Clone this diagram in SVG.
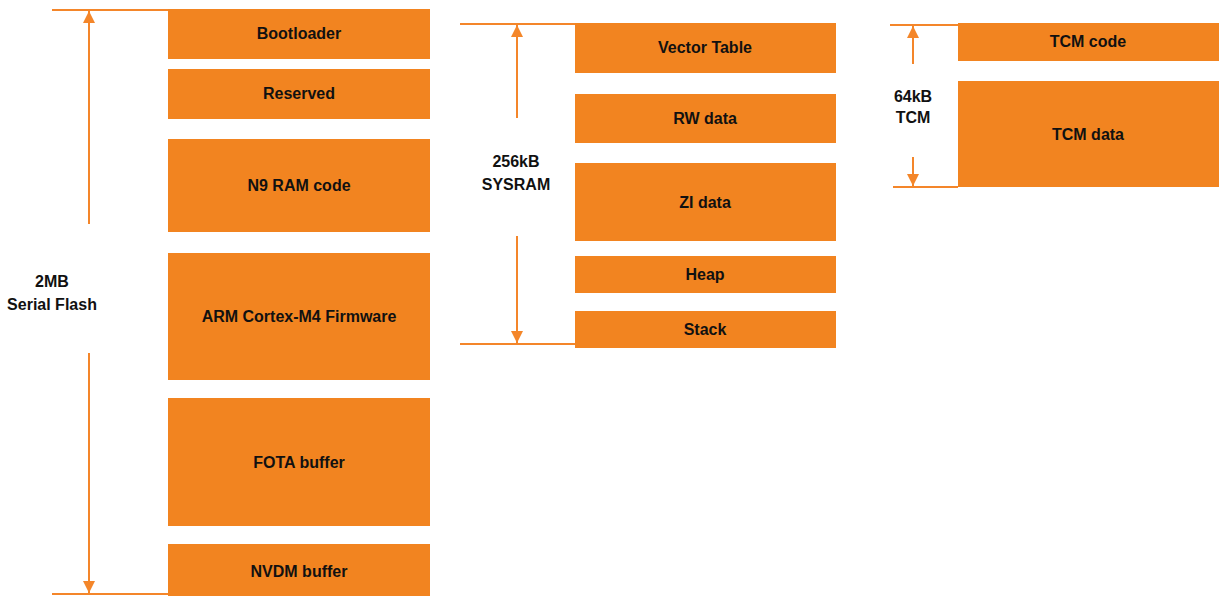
<svg xmlns="http://www.w3.org/2000/svg" width="1219" height="597" viewBox="0 0 1219 597">
<style>
.b{fill:#F28420}
.t{font-family:"Liberation Sans",Arial,sans-serif;font-weight:bold;font-size:16px;fill:#111;text-anchor:middle}
.l{stroke:#F4862A;stroke-width:2;fill:none}
</style>
<defs>
<marker id="ah" viewBox="0 0 10 10" refX="10" refY="5" markerWidth="12" markerHeight="12" markerUnits="userSpaceOnUse" orient="auto">
<path d="M0,0 L10,5 L0,10 z" fill="#F4862A"/>
</marker>
</defs>
<rect width="1219" height="597" fill="#fff"/>
<g id="connectors">
<line class="l" x1="52" y1="10" x2="168" y2="10"/>
<line class="l" x1="52" y1="594" x2="168" y2="594"/>
<line class="l" x1="89" y1="224" x2="89" y2="11" marker-end="url(#ah)"/>
<line class="l" x1="89" y1="353" x2="89" y2="593" marker-end="url(#ah)"/>
<line class="l" x1="460" y1="24" x2="575" y2="24"/>
<line class="l" x1="460" y1="344" x2="575" y2="344"/>
<line class="l" x1="517" y1="118" x2="517" y2="25" marker-end="url(#ah)"/>
<line class="l" x1="517" y1="236" x2="517" y2="343" marker-end="url(#ah)"/>
<line class="l" x1="890" y1="25" x2="958" y2="25"/>
<line class="l" x1="893" y1="187" x2="958" y2="187"/>
<line class="l" x1="913" y1="64" x2="913" y2="26" marker-end="url(#ah)"/>
<line class="l" x1="913" y1="157" x2="913" y2="186" marker-end="url(#ah)"/>
</g>
<g id="flash-label"><text class="t" x="52" y="287">2MB</text><text class="t" x="52" y="310">Serial Flash</text></g>
<g id="sysram-label"><text class="t" x="516" y="167">256kB</text><text class="t" x="516" y="190">SYSRAM</text></g>
<g id="tcm-label"><text class="t" x="913" y="102">64kB</text><text class="t" x="913" y="123">TCM</text></g>
<g id="bootloader"><rect class="b" x="168" y="9" width="262" height="50"/><text class="t" x="299" y="39">Bootloader</text></g>
<g id="reserved"><rect class="b" x="168" y="69" width="262" height="50"/><text class="t" x="299" y="99">Reserved</text></g>
<g id="n9"><rect class="b" x="168" y="139" width="262" height="93"/><text class="t" x="299" y="191">N9 RAM code</text></g>
<g id="arm"><rect class="b" x="168" y="253" width="262" height="127"/><text class="t" x="299" y="322">ARM Cortex-M4 Firmware</text></g>
<g id="fota"><rect class="b" x="168" y="398" width="262" height="128"/><text class="t" x="299" y="468">FOTA buffer</text></g>
<g id="nvdm"><rect class="b" x="168" y="544" width="262" height="52"/><text class="t" x="299" y="577">NVDM buffer</text></g>
<g id="vector"><rect class="b" x="575" y="23" width="261" height="50"/><text class="t" x="705" y="53">Vector Table</text></g>
<g id="rw"><rect class="b" x="575" y="94" width="261" height="49"/><text class="t" x="705" y="124">RW data</text></g>
<g id="zi"><rect class="b" x="575" y="163" width="261" height="78"/><text class="t" x="705" y="208">ZI data</text></g>
<g id="heap"><rect class="b" x="575" y="256" width="261" height="37"/><text class="t" x="705" y="280">Heap</text></g>
<g id="stack"><rect class="b" x="575" y="311" width="261" height="37"/><text class="t" x="705" y="335">Stack</text></g>
<g id="tcmcode"><rect class="b" x="958" y="23" width="261" height="38"/><text class="t" x="1088" y="47">TCM code</text></g>
<g id="tcmdata"><rect class="b" x="958" y="81" width="261" height="106"/><text class="t" x="1088" y="140">TCM data</text></g>
</svg>
